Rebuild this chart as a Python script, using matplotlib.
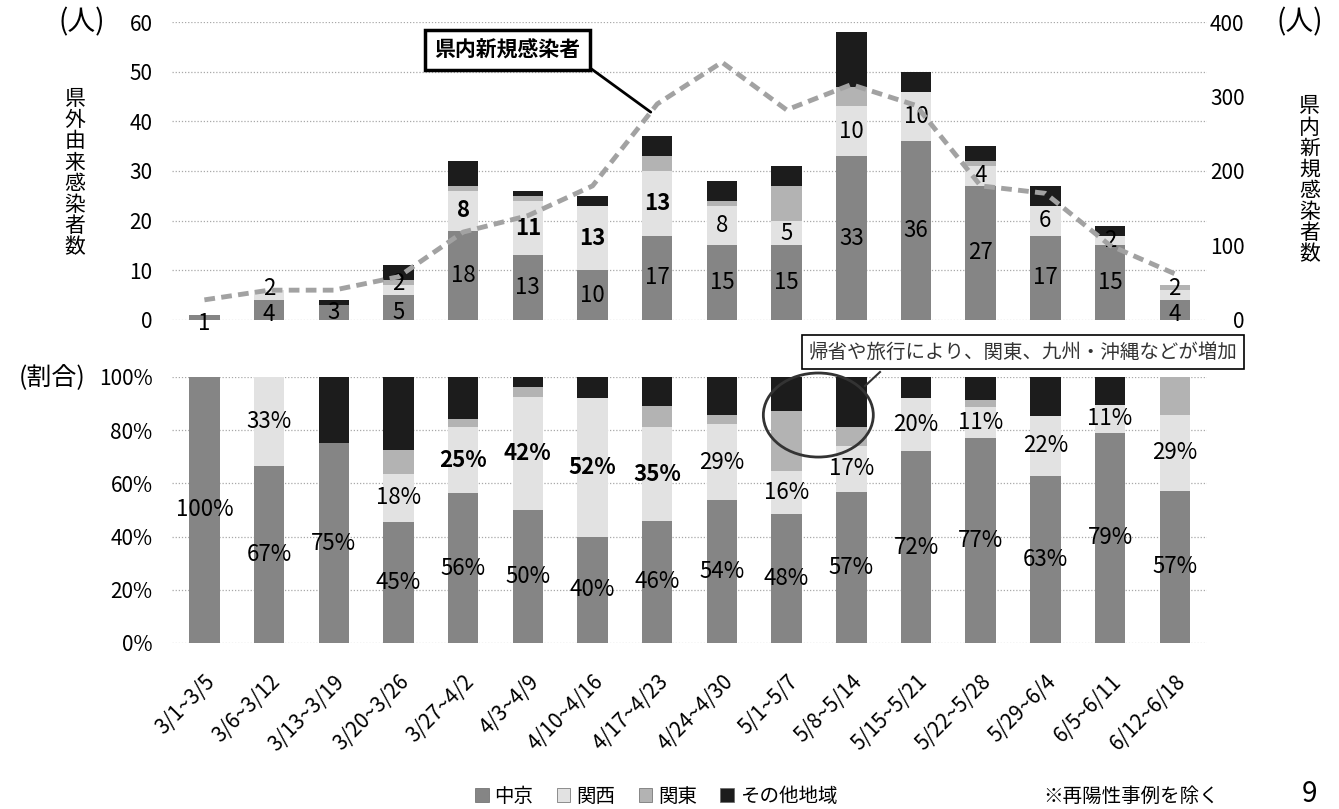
import numpy as np
import matplotlib
matplotlib.use("Agg")
import matplotlib.pyplot as plt
from matplotlib.patches import Patch, Ellipse

plt.rcParams['font.family'] = ['Noto Sans CJK JP', 'DejaVu Sans']

# 週ごとの県外由来感染者数（推定地域別）と県内新規感染者数
weeks = ['3/1~3/5', '3/6~3/12', '3/13~3/19', '3/20~3/26', '3/27~4/2', '4/3~4/9',
         '4/10~4/16', '4/17~4/23', '4/24~4/30', '5/1~5/7', '5/8~5/14', '5/15~5/21',
         '5/22~5/28', '5/29~6/4', '6/5~6/11', '6/12~6/18']
chukyo = [1, 4, 3, 5, 18, 13, 10, 17, 15, 15, 33, 36, 27, 17, 15, 4]
kansai = [0, 2, 0, 2, 8, 11, 13, 13, 8, 5, 10, 10, 4, 6, 2, 2]
kanto = [0, 0, 0, 1, 1, 1, 0, 3, 1, 7, 4, 0, 1, 0, 0, 1]
other = [0, 0, 1, 3, 5, 1, 2, 4, 4, 4, 11, 4, 3, 4, 2, 0]
kennai = [27, 40, 40, 58, 118, 140, 180, 290, 346, 282, 316, 288, 180, 170, 100, 62]
bold_weeks = [4, 5, 6, 7]   # 関西の割合が高い週は太字

series = [chukyo, kansai, kanto, other]
names = ['中京', '関西', '関東', 'その他地域']
colors = ['#858585', '#e2e2e2', '#b3b3b3', '#1c1c1c']

x = np.arange(len(weeks))
counts = np.array(series, dtype=float)
totals = counts.sum(axis=0)
shares = counts / totals * 100

fig = plt.figure(figsize=(13.39, 8.09), dpi=100)
ax = fig.add_axes([0.1285, 0.6045, 0.773, 0.3683])
ax2 = ax.twinx()
axb = fig.add_axes([0.1285, 0.2052, 0.773, 0.3288])

W = 0.47
grid_kw = dict(color='#a8a8a8', lw=0.9, ls=(0, (1, 1.5)))

# 上段: 件数の積み上げ棒
bottom = np.zeros(len(x))
for vals, c in zip(counts, colors):
    ax.bar(x, vals, W, bottom=bottom, color=c, zorder=2)
    bottom += vals

# 小さい区分はラベルが重なるので上下に少しずらす
base = np.zeros(len(x))
for k in range(2):
    for i in x:
        v = counts[k][i]
        if v > 0:
            fw = 'bold' if (k == 1 and i in bold_weeks) else 'normal'
            y = base[i] + v / 2
            if v <= 2 and totals[i] < 12:
                y += -1.3 if k == 0 else 1.4
            elif totals[i] < 12 and counts[1][i] > 0:
                y -= 1.0
            ax.text(i, y, f'{int(v)}', ha='center', va='center',
                    fontsize=16, fontweight=fw, zorder=5)
    base += counts[k]

ax.set_xlim(-0.5, len(x) - 0.5)
ax.set_ylim(0, 60)
ax.set_yticks(range(0, 61, 10))
ax.set_xticks([])
for y in range(0, 61, 10):
    ax.axhline(y, zorder=1, **grid_kw)

# 県内新規感染者（右軸）
ax2.plot(x, kennai, color='#a2a2a2', lw=3.5, ls=(0, (2.2, 1.3)), zorder=4)
ax2.set_ylim(0, 400)
ax2.set_yticks(range(0, 401, 100))

for a in (ax, ax2):
    for s in a.spines.values():
        s.set_visible(False)
    a.tick_params(length=0, labelsize=15)
ax.tick_params(axis='y', pad=14)
ax2.tick_params(axis='y', pad=27)
for lab in ax2.get_yticklabels():
    lab.set_ha('right')

px = 6.9
ax2.annotate('県内新規感染者', xy=(px, np.interp(px, x, kennai)), xytext=(4.68, 362),
             ha='center', va='center', fontsize=15, fontweight='bold',
             bbox=dict(boxstyle='square,pad=0.45', fc='white', ec='black', lw=2.5),
             arrowprops=dict(arrowstyle='-', color='black', lw=2, relpos=(1, 0),
                             shrinkA=0, shrinkB=0), zorder=6)

# 下段: 割合の積み上げ棒
bottom = np.zeros(len(x))
for vals, c in zip(shares, colors):
    axb.bar(x, vals, W, bottom=bottom, color=c, zorder=2)
    bottom += vals

base = np.zeros(len(x))
for k in range(2):
    for i in x:
        v = shares[k][i]
        if v > 0:
            fw = 'bold' if (k == 1 and i in bold_weeks) else 'normal'
            axb.text(i, base[i] + v / 2, f'{v:.0f}%', ha='center', va='center',
                     fontsize=16, fontweight=fw, zorder=5)
    base += shares[k]

axb.set_xlim(-0.5, len(x) - 0.5)
axb.set_ylim(0, 100)
axb.set_yticks(range(0, 101, 20))
axb.set_yticklabels([f'{v}%' for v in range(0, 101, 20)])
for y in range(0, 101, 20):
    axb.axhline(y, zorder=1, **grid_kw)
for s in axb.spines.values():
    s.set_visible(False)
axb.tick_params(length=0, labelsize=15)
axb.tick_params(axis='y', pad=14)
axb.set_xticks(x)
axb.set_xticklabels(weeks, rotation=45, ha='right', rotation_mode='anchor', fontsize=15)
axb.tick_params(axis='x', pad=20)

axb.add_patch(Ellipse((9.49, 85.7), 1.70, 31.6, fill=False, ec='#333333', lw=2,
                      clip_on=False, zorder=6))

# 注記
fig.text(0.764, 0.565, '帰省や旅行により、関東、九州・沖縄などが増加', ha='center', va='center',
         fontsize=14, color='#333333',
         bbox=dict(boxstyle='square,pad=0.35', fc='white', ec='black', lw=1.2))
fig.add_artist(plt.Line2D([880 / 1339, 865 / 1339], [1 - 372 / 809, 1 - 386 / 809],
                          color='#333333', lw=1.5))

# 軸タイトル
fig.text(0.061, 0.972, '(人)', ha='center', va='center', fontsize=20)
fig.text(0.971, 0.972, '(人)', ha='center', va='center', fontsize=20)
fig.text(0.056, 0.786, '\n'.join('県外由来感染者数'), ha='center', va='center',
         fontsize=15, linespacing=0.95)
fig.text(0.978, 0.777, '\n'.join('県内新規感染者数'), ha='center', va='center',
         fontsize=15, linespacing=0.95)
fig.text(0.039, 0.533, '(割合)', ha='center', va='center', fontsize=18)

handles = [Patch(fc=c, ec='#666666', lw=0.5) for c in colors]
fig.legend(handles, names, loc='center', bbox_to_anchor=(0.49, 0.016), ncol=4,
           frameon=False, fontsize=14, handlelength=0.7, handleheight=0.7,
           handletextpad=0.3, columnspacing=1.2)
fig.text(0.845, 0.016, '※再陽性事例を除く', ha='center', va='center', fontsize=14)
fig.text(0.978, 0.018, '9', ha='center', va='center', fontsize=20)

fig.savefig('out.png', dpi=100)
